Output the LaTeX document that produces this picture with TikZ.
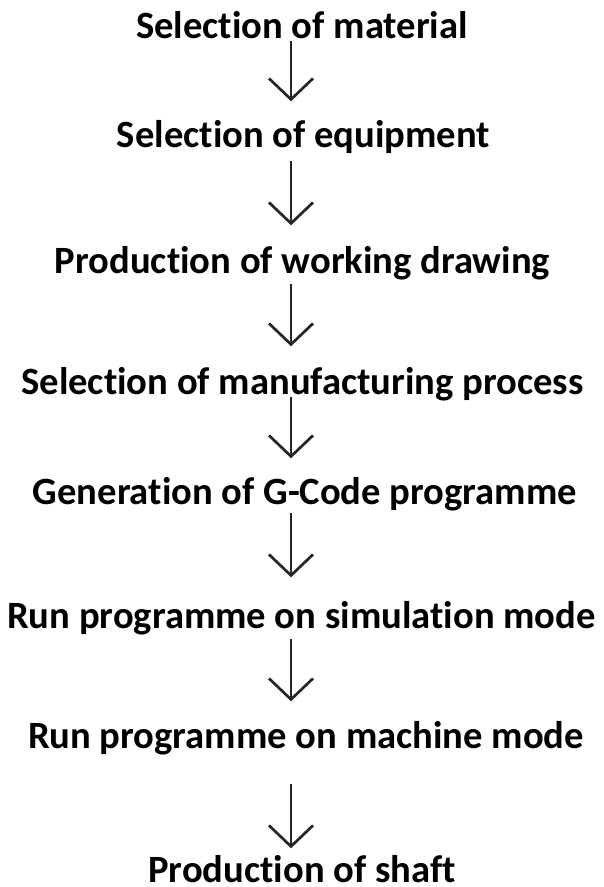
\documentclass[tikz,border=0pt]{standalone}
\usepackage{fontspec}
\setmainfont[Ligatures=NoCommon]{Carlito}
\usetikzlibrary{arrows.meta}

\begin{document}
\begin{tikzpicture}[x=1pt,y=1pt,
  stage/.style={font=\bfseries\fontsize{38.6}{40}\selectfont, inner sep=0pt,
    text height=0pt, text depth=0pt, anchor=base},
  flow/.style={line width=2.7pt, draw=black!85, -{Straight Barb[length=21pt,width=44pt]}}]
\useasboundingbox (0,0) rectangle (603,-887);
\coordinate (col) at (291,0);
\node[stage] (s1) at (302,-38) {Selection of material};
\node[stage] (s2) at (303.5,-147) {Selection of equipment};
\node[stage] (s3) at (302.5,-273) {Production of working drawing};
\node[stage] (s4) at (302.5,-394) {Selection of manufacturing process};
\node[stage] (s5) at (305,-504) {Generation of G-Code programme};
\node[stage] (s6) at (301.5,-628) {Run programme on simulation mode};
\node[stage] (s7) at (306,-748) {Run programme on machine mode};
\node[stage] (s8) at (302,-882) {Production of shaft};
% arrows between the stages, gaps below / above the text
\foreach \a/\b/\s/\e in {s1/s2/2/45,s2/s3/13/47,s3/s4/10/47,s4/s5/2/45,s5/s6/8/50,s6/s7/10/46,s7/s8/35/33}
  \draw[flow, shorten <=\s pt, shorten >=\e pt] (\a.south -| col) -- (\b.north -| col);
\end{tikzpicture}
\end{document}
